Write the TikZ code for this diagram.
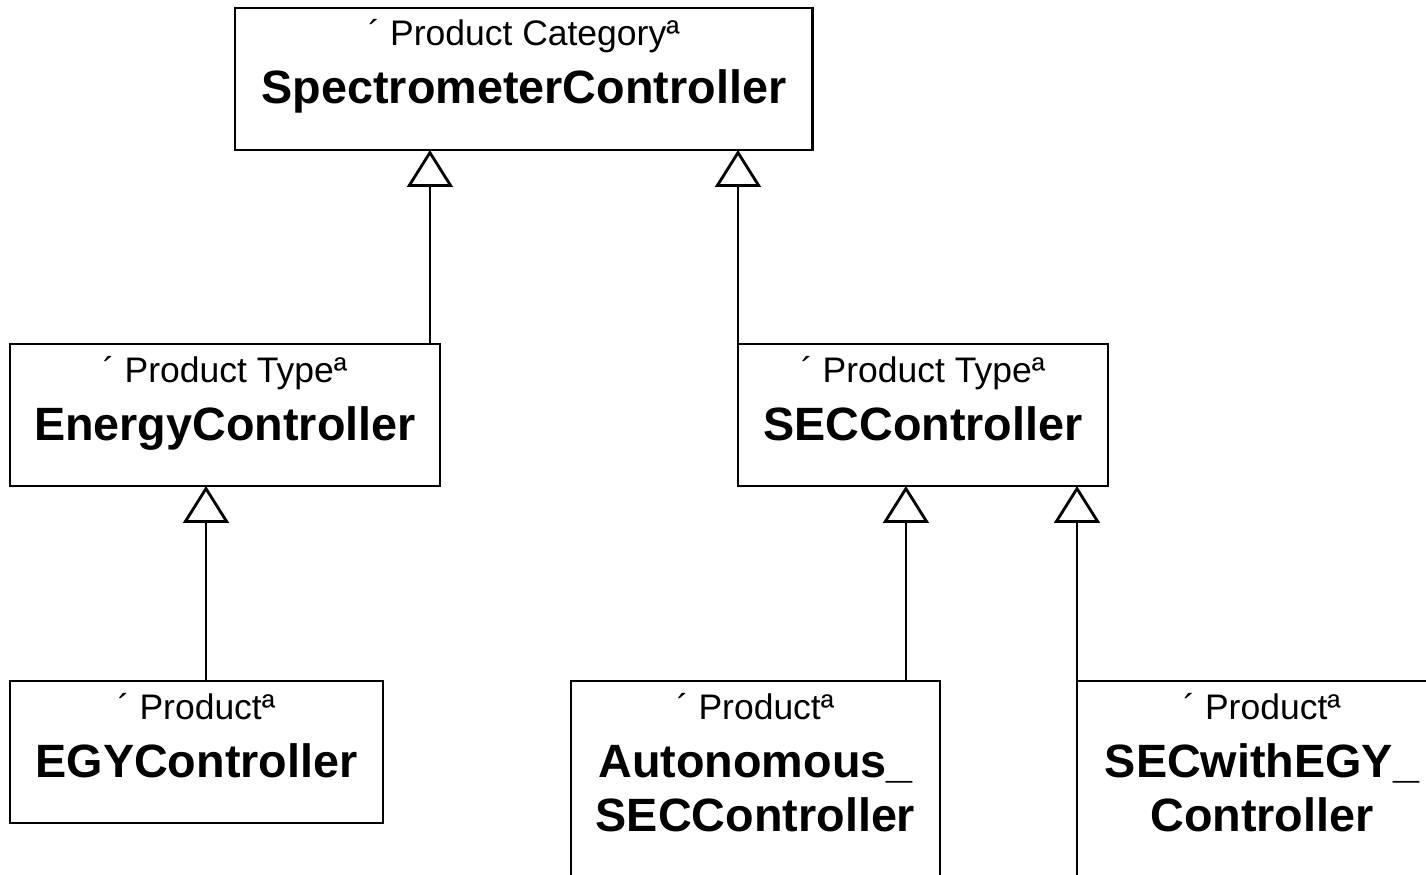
\documentclass[tikz,border=0pt]{standalone}
\usepackage{fontspec}
\setmainfont{Liberation Sans}
\usetikzlibrary{positioning, arrows.meta, calc}
\tikzset{
  box/.style={draw, line width=1.6pt, anchor=north west, minimum height=2.84cm, inner sep=0pt, outer sep=0pt},
  stype/.style={font=\fontsize{20.2}{24}\selectfont, inner sep=0pt, anchor=base},
  cname/.style={font=\fontsize{26.6}{31}\selectfont\bfseries, inner sep=0pt, anchor=base},
  gen/.style={line width=1.6pt, -{Triangle[open, width=26pt, length=21pt]}}
}

\begin{document}
\begin{tikzpicture}[x=0.02cm, y=-0.02cm]
  \useasboundingbox (0,0) rectangle (1426,875);
  \clip (0,0) rectangle (1426,875);

  % Category
  \node[box, minimum width=11.56cm] (spec) at (235,8) {};
  \node[stype] (specS) at ($(spec.north)+(0,38)$) {´ Product Categoryª};
  \node[cname] (specN) at ($(spec.north)+(0,96)$) {SpectrometerController};

  % Types
  \node[box, minimum width=8.6cm] (energy) at (10,344) {};
  \node[stype] (energyS) at ($(energy.north)+(0,38)$) {´ Product Typeª};
  \node[cname] (energyN) at ($(energy.north)+(0,96)$) {EnergyController};

  \node[box, minimum width=7.4cm] (sec) at (738,344) {};
  \node[stype] (secS) at ($(sec.north)+(0,38)$) {´ Product Typeª};
  \node[cname] (secN) at ($(sec.north)+(0,96)$) {SECController};

  % Products
  \node[box, minimum width=7.46cm] (egy) at (10,681) {};
  \node[stype] (egyS) at ($(egy.north)+(0,38)$) {´ Productª};
  \node[cname] (egyN) at ($(egy.north)+(0,96)$) {EGYController};

  \node[box, minimum width=7.38cm, minimum height=5cm] (autosec) at (571,681) {};
  \node[stype] (autosecS) at ($(autosec.north)+(0,38)$) {´ Productª};
  \node[cname] (autosecA) at ($(autosec.north)+(0,96)$) {Autonomous\_};
  \node[cname] (autosecB) at ($(autosec.north)+(0,150)$) {SECController};

  \node[box, minimum width=7.4cm, minimum height=5cm] (secegy) at (1077,681) {};
  \node[stype] (secegyS) at ($(secegy.north)+(0,38)$) {´ Productª};
  \node[cname] (secegyA) at ($(secegy.north)+(0,96)$) {SECwithEGY\_};
  \node[cname] (secegyB) at ($(secegy.north)+(0,150)$) {Controller};

  % Generalisations
  \draw[gen] ($(energy.north east)+(-10,0)$) coordinate (e1) -- (e1 |- spec.south);
  \draw[gen] (sec.north west) -- (sec.north west |- spec.south);
  \draw[gen] ($(egy.north west)+(196,0)$) coordinate (e2) -- (e2 |- energy.south);
  \draw[gen] ($(autosec.north east)+(-34,0)$) coordinate (e3) -- (e3 |- sec.south);
  \draw[gen] (secegy.north west) -- (secegy.north west |- sec.south);
\end{tikzpicture}
\end{document}
